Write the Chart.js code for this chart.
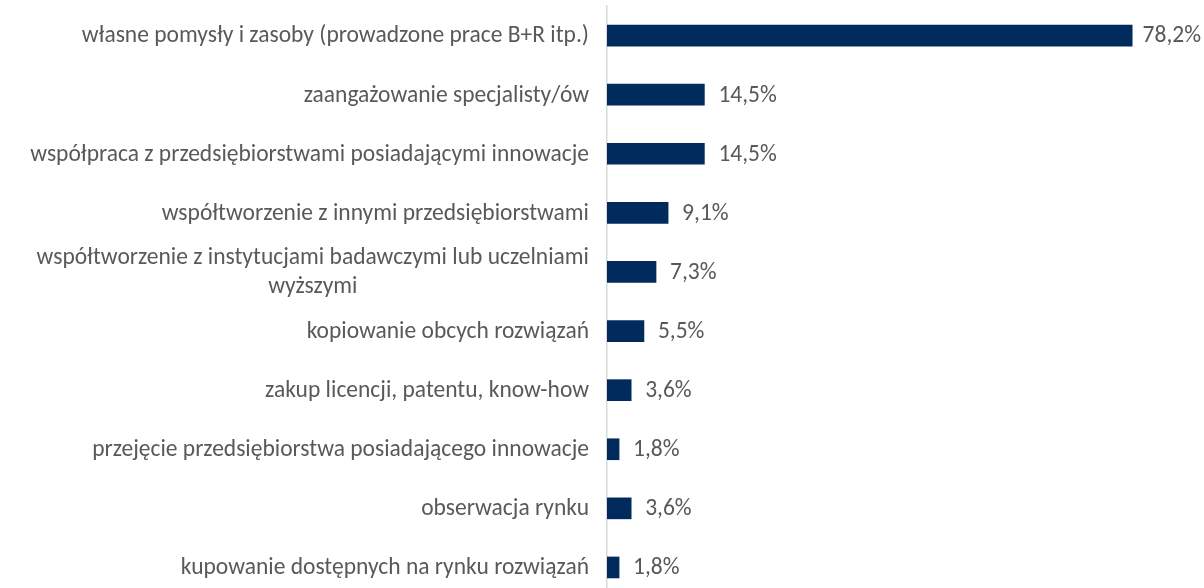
<!DOCTYPE html>
<html>
<head>
<meta charset="utf-8">
<script src="https://cdn.jsdelivr.net/npm/chart.js@4"></script>
<style>
  html, body { margin: 0; padding: 0; background: #fff; overflow: hidden; }
  #wrap { width: 1204px; height: 597px; position: relative; }
</style>
</head>
<body>
<div id="wrap"><canvas id="chart"></canvas></div>
<script>
// Categories (top to bottom) and shares in %
const categories = [
    ['własne pomysły i zasoby (prowadzone prace B+R itp.)'],
    ['zaangażowanie specjalisty/ów'],
    ['współpraca z przedsiębiorstwami posiadającymi innowacje'],
    ['współtworzenie z innymi przedsiębiorstwami'],
    ['współtworzenie z instytucjami badawczymi lub uczelniami', 'wyższymi'],
    ['kopiowanie obcych rozwiązań'],
    ['zakup licencji, patentu, know-how'],
    ['przejęcie przedsiębiorstwa posiadającego innowacje'],
    ['obserwacja rynku'],
    ['kupowanie dostępnych na rynku rozwiązań']
];
const values = [78.2, 14.5, 14.5, 9.1, 7.3, 5.5, 3.6, 1.8, 3.6, 1.8];
const valueLabels = ['78,2%', '14,5%', '14,5%', '9,1%', '7,3%', '5,5%', '3,6%', '1,8%', '3,6%', '1,8%'];

const colors = {
    bar: '#002B5C',
    text: '#595959',
    axis: '#D9D9D9'
};
const FONT = '23.5px Carlito, Lato, sans-serif';
const LABEL_RIGHT = 589;
const AXIS_WIDTH = 607;
const LABEL_MAX_RIGHT = 1201;

// draws category labels (wrapped lines centred within their block, block right aligned)
const categoryLabels = {
    id: 'categoryLabels',
    afterDraw(chart) {
        const ctx = chart.ctx;
        const yScale = chart.scales.y;
        ctx.save();
        ctx.font = FONT;
        ctx.fillStyle = colors.text;
        ctx.textBaseline = 'middle';
        ctx.textAlign = 'center';
        const lineH = 29;
        categories.forEach((lines, i) => {
            const y = yScale.getPixelForTick(i);
            const blockW = Math.max(...lines.map(l => ctx.measureText(l).width));
            const cx = LABEL_RIGHT - blockW / 2;
            const y0 = y - (lines.length - 1) * lineH / 2;
            lines.forEach((l, j) => ctx.fillText(l, cx, y0 + j * lineH + 1));
        });
        ctx.restore();
    }
};

// value labels at the end of each bar, kept inside the chart
const valueLabelsPlugin = {
    id: 'valueLabels',
    afterDatasetsDraw(chart) {
        const ctx = chart.ctx;
        const meta = chart.getDatasetMeta(0);
        ctx.save();
        ctx.font = FONT;
        ctx.fillStyle = colors.text;
        ctx.textBaseline = 'middle';
        ctx.textAlign = 'left';
        meta.data.forEach((bar, i) => {
            const w = ctx.measureText(valueLabels[i]).width;
            const x = Math.min(bar.x + 14, LABEL_MAX_RIGHT - w);
            ctx.fillText(valueLabels[i], x, bar.y + 1);
        });
        ctx.restore();
    }
};

new Chart(document.getElementById('chart'), {
    type: 'bar',
    data: {
        labels: categories.map(c => c.join(' ')),
        datasets: [{
            data: values,
            backgroundColor: colors.bar,
            borderWidth: 0,
            barThickness: 21
        }]
    },
    options: {
        indexAxis: 'y',
        responsive: true,
        maintainAspectRatio: false,
        animation: false,
        layout: { padding: { top: 6, right: 6, left: 0, bottom: 0 } },
        plugins: {
            legend: { display: false },
            tooltip: { enabled: false }
        },
        scales: {
            x: {
                display: false,
                min: 0,
                max: 88
            },
            y: {
                afterFit(scale) { scale.width = AXIS_WIDTH; },
                grid: { display: false, drawTicks: false },
                border: { display: true, color: colors.axis, width: 1.5 },
                ticks: { display: false }
            }
        }
    },
    plugins: [categoryLabels, valueLabelsPlugin]
});
</script>
</body>
</html>
